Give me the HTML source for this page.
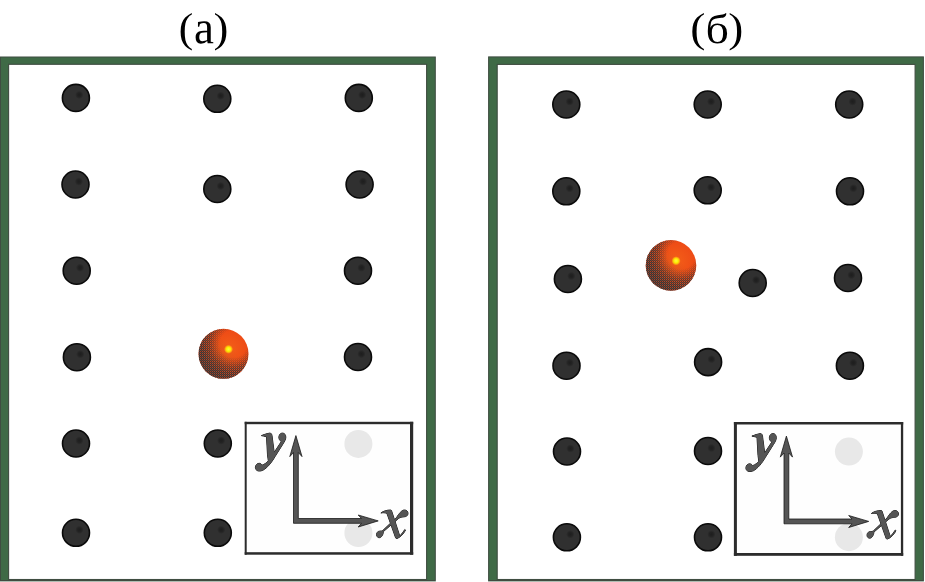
<!DOCTYPE html>
<html><head><meta charset="utf-8"><style>
html,body{margin:0;padding:0;background:#fff;width:925px;height:582px;overflow:hidden}
svg{display:block}
</style></head><body>
<svg width="925" height="582" viewBox="0 0 925 582">
<defs>
<radialGradient id="dg" cx="0.5" cy="0.5" r="0.5">
<stop offset="0" stop-color="#2f2f2f"/><stop offset="1" stop-color="#2c2c2c"/>
</radialGradient>
<radialGradient id="og" cx="0.6" cy="0.41" r="0.72">
<stop offset="0" stop-color="#ffff40"/><stop offset="0.06" stop-color="#fff000"/><stop offset="0.09" stop-color="#ffb010"/><stop offset="0.125" stop-color="#f25a18"/><stop offset="0.5" stop-color="#ee4c16"/><stop offset="0.8" stop-color="#e0441a"/><stop offset="1" stop-color="#c8401e"/>
</radialGradient>
<radialGradient id="ok" cx="0.7" cy="0.3" r="0.85">
<stop offset="0" stop-color="#fff" stop-opacity="0"/><stop offset="0.32" stop-color="#fff" stop-opacity="0"/><stop offset="0.56" stop-color="#fff" stop-opacity="0.75"/><stop offset="0.76" stop-color="#fff" stop-opacity="1"/>
</radialGradient>
<linearGradient id="ok2" x1="0.641" y1="0.359" x2="0.146" y2="0.854">
<stop offset="0" stop-color="#383838" stop-opacity="0"/><stop offset="0.5" stop-color="#383838" stop-opacity="0.1"/><stop offset="1" stop-color="#383838" stop-opacity="0.4"/>
</linearGradient>
<pattern id="dith" width="2" height="2" patternUnits="userSpaceOnUse"><rect width="1" height="1" fill="#3a3a3a"/><rect x="1" y="1" width="1" height="1" fill="#333"/><rect x="1" y="0" width="1" height="1" fill="#3a3a3a" opacity="0.6"/></pattern>
<mask id="dm" maskContentUnits="objectBoundingBox"><rect width="1" height="1" fill="url(#ok)"/></mask>
<radialGradient id="sp"><stop offset="0" stop-color="#1a1a1a" stop-opacity="0.85"/><stop offset="0.5" stop-color="#1a1a1a" stop-opacity="0.6"/><stop offset="1" stop-color="#1a1a1a" stop-opacity="0"/></radialGradient>

</defs>
<rect x="0.5" y="57" width="434.8" height="523.5" fill="#3f6a46" stroke="#3f4d41" stroke-width="1"/>
<rect x="0" y="581" width="435.8" height="1" fill="#b0bdb3"/>
<rect x="8.6" y="64.3" width="418" height="515.2" fill="#fff" stroke="#3f4d41" stroke-width="1.1"/>
<rect x="488.6" y="56.9" width="434.8" height="523.6" fill="#3f6a46" stroke="#3f4d41" stroke-width="1"/>
<rect x="488.1" y="581" width="435.8" height="1" fill="#b0bdb3"/>
<rect x="497.2" y="64.4" width="417.9" height="515.1" fill="#fff" stroke="#3f4d41" stroke-width="1.1"/>
<circle cx="75.9" cy="97.9" r="13.5" fill="#303030" stroke="#0a0a0a" stroke-width="1.6"/><circle cx="79.3" cy="94.9" r="4.2" fill="url(#sp)"/><circle cx="217.3" cy="98.8" r="13.5" fill="#303030" stroke="#0a0a0a" stroke-width="1.6"/><circle cx="220.7" cy="95.8" r="4.2" fill="url(#sp)"/><circle cx="358.8" cy="97.9" r="13.5" fill="#303030" stroke="#0a0a0a" stroke-width="1.6"/><circle cx="362.2" cy="94.9" r="4.2" fill="url(#sp)"/><circle cx="75.5" cy="184.5" r="13.5" fill="#303030" stroke="#0a0a0a" stroke-width="1.6"/><circle cx="78.9" cy="181.5" r="4.2" fill="url(#sp)"/><circle cx="217.3" cy="189.0" r="13.5" fill="#303030" stroke="#0a0a0a" stroke-width="1.6"/><circle cx="220.7" cy="186.0" r="4.2" fill="url(#sp)"/><circle cx="359.6" cy="184.5" r="13.5" fill="#303030" stroke="#0a0a0a" stroke-width="1.6"/><circle cx="363.0" cy="181.5" r="4.2" fill="url(#sp)"/><circle cx="76.7" cy="270.7" r="13.5" fill="#303030" stroke="#0a0a0a" stroke-width="1.6"/><circle cx="80.1" cy="267.7" r="4.2" fill="url(#sp)"/><circle cx="358.0" cy="270.7" r="13.5" fill="#303030" stroke="#0a0a0a" stroke-width="1.6"/><circle cx="361.4" cy="267.7" r="4.2" fill="url(#sp)"/><circle cx="76.9" cy="357.2" r="13.5" fill="#303030" stroke="#0a0a0a" stroke-width="1.6"/><circle cx="80.3" cy="354.2" r="4.2" fill="url(#sp)"/><circle cx="358.0" cy="357.0" r="13.5" fill="#303030" stroke="#0a0a0a" stroke-width="1.6"/><circle cx="361.4" cy="354.0" r="4.2" fill="url(#sp)"/><circle cx="76.0" cy="443.5" r="13.5" fill="#303030" stroke="#0a0a0a" stroke-width="1.6"/><circle cx="79.4" cy="440.5" r="4.2" fill="url(#sp)"/><circle cx="217.8" cy="443.5" r="13.5" fill="#303030" stroke="#0a0a0a" stroke-width="1.6"/><circle cx="221.2" cy="440.5" r="4.2" fill="url(#sp)"/><circle cx="76.0" cy="532.8" r="13.5" fill="#303030" stroke="#0a0a0a" stroke-width="1.6"/><circle cx="79.4" cy="529.8" r="4.2" fill="url(#sp)"/><circle cx="217.8" cy="532.8" r="13.5" fill="#303030" stroke="#0a0a0a" stroke-width="1.6"/><circle cx="221.2" cy="529.8" r="4.2" fill="url(#sp)"/>
<circle cx="566.3" cy="104.5" r="13.5" fill="#303030" stroke="#0a0a0a" stroke-width="1.6"/><circle cx="569.7" cy="101.5" r="4.2" fill="url(#sp)"/><circle cx="707.7" cy="104.5" r="13.5" fill="#303030" stroke="#0a0a0a" stroke-width="1.6"/><circle cx="711.1" cy="101.5" r="4.2" fill="url(#sp)"/><circle cx="849.2" cy="104.5" r="13.5" fill="#303030" stroke="#0a0a0a" stroke-width="1.6"/><circle cx="852.6" cy="101.5" r="4.2" fill="url(#sp)"/><circle cx="566.3" cy="191.3" r="13.5" fill="#303030" stroke="#0a0a0a" stroke-width="1.6"/><circle cx="569.7" cy="188.3" r="4.2" fill="url(#sp)"/><circle cx="707.7" cy="190.3" r="13.5" fill="#303030" stroke="#0a0a0a" stroke-width="1.6"/><circle cx="711.1" cy="187.3" r="4.2" fill="url(#sp)"/><circle cx="850.0" cy="191.3" r="13.5" fill="#303030" stroke="#0a0a0a" stroke-width="1.6"/><circle cx="853.4" cy="188.3" r="4.2" fill="url(#sp)"/><circle cx="567.9" cy="279.0" r="13.5" fill="#303030" stroke="#0a0a0a" stroke-width="1.6"/><circle cx="571.3" cy="276.0" r="4.2" fill="url(#sp)"/><circle cx="752.7" cy="283.0" r="13.5" fill="#303030" stroke="#0a0a0a" stroke-width="1.6"/><circle cx="756.1" cy="280.0" r="4.2" fill="url(#sp)"/><circle cx="848.0" cy="278.0" r="13.5" fill="#303030" stroke="#0a0a0a" stroke-width="1.6"/><circle cx="851.4" cy="275.0" r="4.2" fill="url(#sp)"/><circle cx="566.5" cy="365.7" r="13.5" fill="#303030" stroke="#0a0a0a" stroke-width="1.6"/><circle cx="569.9" cy="362.7" r="4.2" fill="url(#sp)"/><circle cx="708.1" cy="362.1" r="13.5" fill="#303030" stroke="#0a0a0a" stroke-width="1.6"/><circle cx="711.5" cy="359.1" r="4.2" fill="url(#sp)"/><circle cx="849.9" cy="365.7" r="13.5" fill="#303030" stroke="#0a0a0a" stroke-width="1.6"/><circle cx="853.3" cy="362.7" r="4.2" fill="url(#sp)"/><circle cx="567.0" cy="451.5" r="13.5" fill="#303030" stroke="#0a0a0a" stroke-width="1.6"/><circle cx="570.4" cy="448.5" r="4.2" fill="url(#sp)"/><circle cx="708.0" cy="451.0" r="13.5" fill="#303030" stroke="#0a0a0a" stroke-width="1.6"/><circle cx="711.4" cy="448.0" r="4.2" fill="url(#sp)"/><circle cx="566.9" cy="537.3" r="13.5" fill="#303030" stroke="#0a0a0a" stroke-width="1.6"/><circle cx="570.3" cy="534.3" r="4.2" fill="url(#sp)"/><circle cx="708.0" cy="537.3" r="13.5" fill="#303030" stroke="#0a0a0a" stroke-width="1.6"/><circle cx="711.4" cy="534.3" r="4.2" fill="url(#sp)"/>
<circle cx="223.5" cy="353.8" r="25" fill="url(#og)"/><circle cx="223.5" cy="353.8" r="25" fill="url(#dith)" mask="url(#dm)"/><circle cx="223.5" cy="353.8" r="25" fill="url(#ok2)"/>
<circle cx="671" cy="265.4" r="25.3" fill="url(#og)"/><circle cx="671" cy="265.4" r="25.3" fill="url(#dith)" mask="url(#dm)"/><circle cx="671" cy="265.4" r="25.3" fill="url(#ok2)"/>
<rect x="244.7" y="421.8" width="168.5" height="132.9" fill="#fefefe"/><circle cx="358.4" cy="443.9" r="14" fill="#e8e8e8"/><circle cx="358.4" cy="533" r="14" fill="#e8e8e8"/><rect x="244.7" y="421.8" width="168.5" height="2.4" fill="#2c2c2c"/><rect x="244.7" y="552.2" width="168.5" height="2.5" fill="#2c2c2c"/><rect x="244.7" y="421.8" width="2" height="132.9" fill="#2c2c2c"/><rect x="410.0" y="421.8" width="3.2" height="132.9" fill="#2c2c2c"/><path d="M293.5,523.3 L293.5,452.5 L289.8,456.6 L295.9,435.6 L302.0,456.6 L298.3,452.5 L298.3,518.5 L361.5,518.5 L358.2,515.0 L378.2,520.9 L358.2,527.0 L361.5,523.3 Z" fill="#555" stroke="#1a1a1a" stroke-width="0.8" stroke-linejoin="miter"/><g transform="translate(252,430)"><g fill="#1c1c1c" stroke="#1c1c1c" stroke-width="1.0" stroke-linejoin="round"><path d="M9.4,5.6 C12,4.4 15,3.6 17.7,3.1 C19.3,3.0 20.1,4.5 20.2,7 L22.2,22.4 L29.3,11.6 C27.4,10.4 26.7,8.6 26.9,6.6 C27.3,4.4 28.8,3.1 30.4,3.1 C32.5,3.1 33.8,4.8 33.8,7.2 C33.8,9.5 32.5,11.6 31,13.9 L22.9,26.8 C19.6,32.6 15,38.2 10.8,40.3 C9.3,41 7.8,41.2 6.4,41 C4.5,40.6 3.3,39.2 3.4,37.3 C3.5,35 5.2,33.3 7.2,33.3 C8.5,33.3 9.6,34.2 10,35.2 C12.5,34.4 14.8,32.6 16.3,30.8 L15.5,24.9 L14.5,6.8 C12.8,6.2 10.8,6 9.4,5.6 Z"/></g><g fill="#555"><path d="M9.4,5.6 C12,4.4 15,3.6 17.7,3.1 C19.3,3.0 20.1,4.5 20.2,7 L22.2,22.4 L29.3,11.6 C27.4,10.4 26.7,8.6 26.9,6.6 C27.3,4.4 28.8,3.1 30.4,3.1 C32.5,3.1 33.8,4.8 33.8,7.2 C33.8,9.5 32.5,11.6 31,13.9 L22.9,26.8 C19.6,32.6 15,38.2 10.8,40.3 C9.3,41 7.8,41.2 6.4,41 C4.5,40.6 3.3,39.2 3.4,37.3 C3.5,35 5.2,33.3 7.2,33.3 C8.5,33.3 9.6,34.2 10,35.2 C12.5,34.4 14.8,32.6 16.3,30.8 L15.5,24.9 L14.5,6.8 C12.8,6.2 10.8,6 9.4,5.6 Z"/></g></g><g transform="translate(350,500)"><g fill="#1c1c1c" stroke="#1c1c1c" stroke-width="1.0" stroke-linejoin="round"><path d="M30.9,13 C33,11.2 37,10 40.5,10 C41.3,10 41.7,10.6 41.8,11.5 L49.8,36.1 C51.6,34 53.6,31.6 54.8,29.6 L55.5,30.2 C53.8,33.5 50.3,37.5 47,38.5 C46.2,38.7 45.8,38.3 45.6,37.8 L36.9,13.3 C34.8,12.6 32.5,12.6 30.9,13 Z"/><path d="M46.6,17.4 C49,13.8 51.5,10.1 54.3,10 C56.6,9.9 58.1,11.6 58,13.6 C57.9,15.5 56.3,16.7 54.2,16.8 C52.5,16.9 50.3,17.2 48.4,18.6 L33.4,31.6 C33.2,34.8 31.4,37.7 29.3,37.7 C27.6,37.7 26.5,36.4 26.5,34.6 C26.5,32.6 28,31.1 30,31.1 C31.2,31.1 32,31 32.8,30.5 Z"/></g><g fill="#555"><path d="M30.9,13 C33,11.2 37,10 40.5,10 C41.3,10 41.7,10.6 41.8,11.5 L49.8,36.1 C51.6,34 53.6,31.6 54.8,29.6 L55.5,30.2 C53.8,33.5 50.3,37.5 47,38.5 C46.2,38.7 45.8,38.3 45.6,37.8 L36.9,13.3 C34.8,12.6 32.5,12.6 30.9,13 Z"/><path d="M46.6,17.4 C49,13.8 51.5,10.1 54.3,10 C56.6,9.9 58.1,11.6 58,13.6 C57.9,15.5 56.3,16.7 54.2,16.8 C52.5,16.9 50.3,17.2 48.4,18.6 L33.4,31.6 C33.2,34.8 31.4,37.7 29.3,37.7 C27.6,37.7 26.5,36.4 26.5,34.6 C26.5,32.6 28,31.1 30,31.1 C31.2,31.1 32,31 32.8,30.5 Z"/></g></g>
<rect x="733.9" y="422" width="169.3" height="133.8" fill="#fefefe"/><circle cx="848.9" cy="451.6" r="14" fill="#e8e8e8"/><circle cx="848.9" cy="537.2" r="14" fill="#e8e8e8"/><rect x="733.9" y="422" width="169.3" height="2.5" fill="#2c2c2c"/><rect x="733.9" y="553.0" width="169.3" height="2.8" fill="#2c2c2c"/><rect x="733.9" y="422" width="3" height="133.8" fill="#2c2c2c"/><rect x="900.9" y="422" width="2.3" height="133.8" fill="#2c2c2c"/><path d="M784.0,523.8 L784.0,453.0 L780.3,457.1 L786.4,436.1 L792.5,457.1 L788.8,453.0 L788.8,519.0 L852.0,519.0 L848.7,515.5 L868.7,521.4 L848.7,527.5 L852.0,523.8 Z" fill="#555" stroke="#1a1a1a" stroke-width="0.8" stroke-linejoin="miter"/><g transform="translate(742.5,430.5)"><g fill="#1c1c1c" stroke="#1c1c1c" stroke-width="1.0" stroke-linejoin="round"><path d="M9.4,5.6 C12,4.4 15,3.6 17.7,3.1 C19.3,3.0 20.1,4.5 20.2,7 L22.2,22.4 L29.3,11.6 C27.4,10.4 26.7,8.6 26.9,6.6 C27.3,4.4 28.8,3.1 30.4,3.1 C32.5,3.1 33.8,4.8 33.8,7.2 C33.8,9.5 32.5,11.6 31,13.9 L22.9,26.8 C19.6,32.6 15,38.2 10.8,40.3 C9.3,41 7.8,41.2 6.4,41 C4.5,40.6 3.3,39.2 3.4,37.3 C3.5,35 5.2,33.3 7.2,33.3 C8.5,33.3 9.6,34.2 10,35.2 C12.5,34.4 14.8,32.6 16.3,30.8 L15.5,24.9 L14.5,6.8 C12.8,6.2 10.8,6 9.4,5.6 Z"/></g><g fill="#555"><path d="M9.4,5.6 C12,4.4 15,3.6 17.7,3.1 C19.3,3.0 20.1,4.5 20.2,7 L22.2,22.4 L29.3,11.6 C27.4,10.4 26.7,8.6 26.9,6.6 C27.3,4.4 28.8,3.1 30.4,3.1 C32.5,3.1 33.8,4.8 33.8,7.2 C33.8,9.5 32.5,11.6 31,13.9 L22.9,26.8 C19.6,32.6 15,38.2 10.8,40.3 C9.3,41 7.8,41.2 6.4,41 C4.5,40.6 3.3,39.2 3.4,37.3 C3.5,35 5.2,33.3 7.2,33.3 C8.5,33.3 9.6,34.2 10,35.2 C12.5,34.4 14.8,32.6 16.3,30.8 L15.5,24.9 L14.5,6.8 C12.8,6.2 10.8,6 9.4,5.6 Z"/></g></g><g transform="translate(840.5,500.5)"><g fill="#1c1c1c" stroke="#1c1c1c" stroke-width="1.0" stroke-linejoin="round"><path d="M30.9,13 C33,11.2 37,10 40.5,10 C41.3,10 41.7,10.6 41.8,11.5 L49.8,36.1 C51.6,34 53.6,31.6 54.8,29.6 L55.5,30.2 C53.8,33.5 50.3,37.5 47,38.5 C46.2,38.7 45.8,38.3 45.6,37.8 L36.9,13.3 C34.8,12.6 32.5,12.6 30.9,13 Z"/><path d="M46.6,17.4 C49,13.8 51.5,10.1 54.3,10 C56.6,9.9 58.1,11.6 58,13.6 C57.9,15.5 56.3,16.7 54.2,16.8 C52.5,16.9 50.3,17.2 48.4,18.6 L33.4,31.6 C33.2,34.8 31.4,37.7 29.3,37.7 C27.6,37.7 26.5,36.4 26.5,34.6 C26.5,32.6 28,31.1 30,31.1 C31.2,31.1 32,31 32.8,30.5 Z"/></g><g fill="#555"><path d="M30.9,13 C33,11.2 37,10 40.5,10 C41.3,10 41.7,10.6 41.8,11.5 L49.8,36.1 C51.6,34 53.6,31.6 54.8,29.6 L55.5,30.2 C53.8,33.5 50.3,37.5 47,38.5 C46.2,38.7 45.8,38.3 45.6,37.8 L36.9,13.3 C34.8,12.6 32.5,12.6 30.9,13 Z"/><path d="M46.6,17.4 C49,13.8 51.5,10.1 54.3,10 C56.6,9.9 58.1,11.6 58,13.6 C57.9,15.5 56.3,16.7 54.2,16.8 C52.5,16.9 50.3,17.2 48.4,18.6 L33.4,31.6 C33.2,34.8 31.4,37.7 29.3,37.7 C27.6,37.7 26.5,36.4 26.5,34.6 C26.5,32.6 28,31.1 30,31.1 C31.2,31.1 32,31 32.8,30.5 Z"/></g></g>
<g fill="#000"><path transform="translate(180.60,50.60) scale(0.02129,-0.02030) translate(-90,436)" d="M283 494Q283 234 318.0 79.5Q353 -75 428.0 -181.0Q503 -287 616 -352V-436Q418 -331 306.5 -206.5Q195 -82 142.5 86.5Q90 255 90 494Q90 732 142.0 899.5Q194 1067 305.0 1191.0Q416 1315 616 1421V1337Q494 1267 422.0 1157.5Q350 1048 316.5 902.0Q283 756 283 494Z"/><path transform="translate(195.60,43.70) scale(0.02188,-0.02283) translate(-72,20)" d="M465 961Q619 961 691.5 898.0Q764 835 764 705V70L881 45V0H623L604 94Q490 -20 313 -20Q72 -20 72 260Q72 354 108.5 415.5Q145 477 225.0 509.5Q305 542 457 545L598 549V696Q598 793 562.5 839.0Q527 885 453 885Q353 885 270 838L236 721H180V926Q342 961 465 961ZM598 479 467 475Q333 470 285.5 423.0Q238 376 238 266Q238 90 381 90Q449 90 498.5 105.5Q548 121 598 145Z"/><path transform="translate(215.00,50.60) scale(0.02167,-0.02030) translate(-66,436)" d="M66 -436V-352Q179 -287 254.0 -180.5Q329 -74 364.0 80.5Q399 235 399 494Q399 756 365.5 902.0Q332 1048 260.0 1157.5Q188 1267 66 1337V1421Q266 1314 377.0 1190.5Q488 1067 540.0 899.5Q592 732 592 494Q592 256 540.0 87.5Q488 -81 377.0 -205.0Q266 -329 66 -436Z"/><path transform="translate(692.30,50.60) scale(0.02205,-0.02030) translate(-90,436)" d="M283 494Q283 234 318.0 79.5Q353 -75 428.0 -181.0Q503 -287 616 -352V-436Q418 -331 306.5 -206.5Q195 -82 142.5 86.5Q90 255 90 494Q90 732 142.0 899.5Q194 1067 305.0 1191.0Q416 1315 616 1421V1337Q494 1267 422.0 1157.5Q350 1048 316.5 902.0Q283 756 283 494Z"/><path transform="translate(707.80,43.50) scale(0.02224,-0.02039) translate(-96,20)" d="M96 578Q96 853 141.5 1013.5Q187 1174 286.0 1263.0Q385 1352 545 1371Q716 1390 762.0 1400.5Q808 1411 838.0 1426.0Q868 1441 880 1466H930Q927 1387 902.0 1342.5Q877 1298 828.5 1273.0Q780 1248 708.0 1237.0Q636 1226 539 1214Q410 1198 345.5 1160.5Q281 1123 252.0 1048.5Q223 974 212 760H219Q254 858 340.0 911.5Q426 965 538 965Q750 965 857.0 840.5Q964 716 964 475Q964 -20 524 -20Q96 -20 96 578ZM784 475Q784 691 721.0 788.0Q658 885 524 885Q393 885 334.5 792.0Q276 699 276 475Q276 59 524 59Q656 59 720.0 157.0Q784 255 784 475Z"/><path transform="translate(729.70,50.60) scale(0.02205,-0.02030) translate(-66,436)" d="M66 -436V-352Q179 -287 254.0 -180.5Q329 -74 364.0 80.5Q399 235 399 494Q399 756 365.5 902.0Q332 1048 260.0 1157.5Q188 1267 66 1337V1421Q266 1314 377.0 1190.5Q488 1067 540.0 899.5Q592 732 592 494Q592 256 540.0 87.5Q488 -81 377.0 -205.0Q266 -329 66 -436Z"/></g>
</svg>
</body></html>
